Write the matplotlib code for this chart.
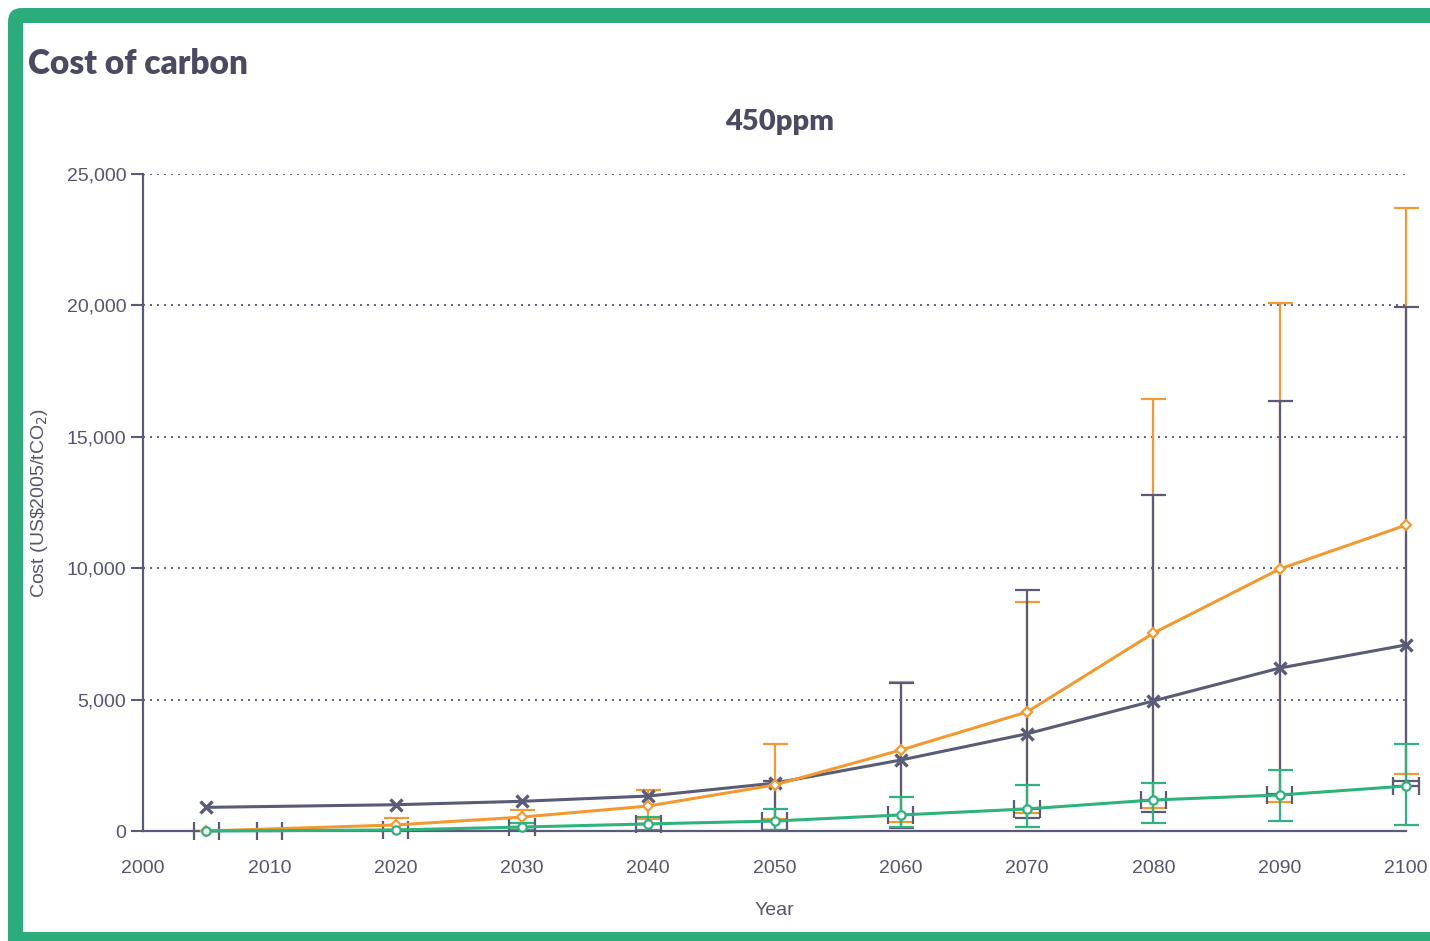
import numpy as np
import matplotlib
matplotlib.use("Agg")
import matplotlib.pyplot as plt
from matplotlib.patches import FancyBboxPatch, Rectangle

nan = np.nan

# cost of carbon, 450ppm scenario (US$2005/tCO2)
years = [2005, 2020, 2030, 2040, 2050, 2060, 2070, 2080, 2090, 2100]

dark_mid = [900, 1000, 1130, 1330, 1820, 2700, 3700, 4950, 6200, 7080]
dark_lo = [nan, nan, nan, nan, 50, 110, 500, 720, 1400, 1900]
dark_hi = [nan, nan, nan, nan, 1900, 5630, 9170, 12800, 16350, 19950]

orange_mid = [0, 230, 530, 950, 1750, 3080, 4530, 7530, 9970, 11640]
orange_lo = [nan, nan, 300, 450, 450, 350, 700, 870, 1100, 2170]
orange_hi = [nan, 490, 800, 1560, 3300, 5670, 8700, 16450, 20100, 23700]

green_mid = [0, 40, 150, 270, 380, 610, 840, 1180, 1370, 1710]
green_lo = [nan, nan, 50, 50, 50, 150, 150, 300, 380, 230]
green_hi = [nan, nan, 300, 530, 830, 1300, 1750, 1830, 2320, 3300]

# year spread markers drawn around the low series
spread_years = [2005, 2010, 2020, 2030, 2040, 2050, 2060, 2070, 2080, 2090, 2100]
spread_vals = [0, 0, 40, 150, 270, 380, 610, 840, 1180, 1370, 1710]

y_ticks = [0, 5000, 10000, 15000, 20000, 25000]
x_ticks = list(range(2000, 2101, 10))

DARK = "#5a5b76"
ORANGE = "#f29a30"
GREEN = "#2db37e"
FRAME = "#2aad7a"
TEXT = "#55566d"

fig = plt.figure(figsize=(14.3, 9.41), dpi=100)

# green frame
bg = fig.add_axes([0, 0, 1, 1], zorder=-1)
bg.set_xlim(0, 1430)
bg.set_ylim(941, 0)
bg.axis("off")
bg.add_patch(FancyBboxPatch((8, 8), 1480, 980, boxstyle="round,pad=0,rounding_size=14",
                            facecolor=FRAME, edgecolor="none"))
bg.add_patch(Rectangle((23, 23), 1450, 909, facecolor="white", edgecolor="none"))

fig.text(28 / 1430, 1 - 64 / 941, "Cost of carbon", fontsize=24, fontweight="heavy",
         family="Lato", color="#4a4b63", va="center", ha="left")
fig.text(780 / 1430, 1 - 122 / 941, "450ppm", fontsize=21, fontweight="heavy",
         family="Lato", color="#4a4b63", va="center", ha="center")

ax = fig.add_axes([143 / 1430, 1 - 831 / 941, (1406 - 143) / 1430, (831 - 174) / 941])
ax.patch.set_alpha(0)
ax.set_xlim(2000, 2100)
ax.set_ylim(0, 25000)

for s in ["top", "right"]:
    ax.spines[s].set_visible(False)
for s in ["left", "bottom"]:
    ax.spines[s].set_color(DARK)
    ax.spines[s].set_linewidth(1.6)

ax.set_yticks(y_ticks)
ax.set_yticklabels([f"{v:,}" for v in y_ticks])
ax.set_xticks(x_ticks)
ax.tick_params(axis="y", length=9, width=1.5, color=DARK, pad=3, labelsize=14, labelcolor=TEXT)
ax.tick_params(axis="x", length=0, pad=21, labelsize=14, labelcolor=TEXT)
for lab in ax.get_xticklabels() + ax.get_yticklabels():
    lab.set_family("Liberation Sans")

for v in y_ticks[1:]:
    ax.axhline(v, color="#5f6078", lw=1.4, ls=(0, (1, 2.6)), zorder=0)

ax.set_xlabel("Year", fontsize=14, color=TEXT, family="Liberation Sans")
ax.xaxis.set_label_coords(0.5, -0.108)
ax.set_ylabel(r"Cost (US\$2005/tCO$_2$)", fontsize=14, color=TEXT, family="Liberation Sans")
ax.yaxis.set_label_coords(-0.074, 0.5)


def bars(mid, lo, hi, col):
    mid = np.array(mid, float)
    err = [mid - np.array(lo, float), np.array(hi, float) - mid]
    ax.errorbar(years, mid, yerr=err, fmt="none", ecolor=col, elinewidth=1.6,
                capsize=9, capthick=1.6, zorder=2, clip_on=False)


bars(orange_mid, orange_lo, orange_hi, ORANGE)
bars(dark_mid, dark_lo, dark_hi, DARK)
bars(green_mid, green_lo, green_hi, GREEN)

ax.errorbar(spread_years, spread_vals, xerr=1, fmt="none", ecolor=DARK, elinewidth=1.6,
            capsize=6.5, capthick=1.6, zorder=2, clip_on=False)

ax.plot(years, dark_mid, color=DARK, lw=2.2, marker="x", ms=9, mew=2.4, zorder=4, clip_on=False)
ax.plot(years, orange_mid, color=ORANGE, lw=2.2, marker="D", ms=5.5, mew=1.6,
        mfc="white", zorder=5, clip_on=False)
ax.plot(years, green_mid, color=GREEN, lw=2.2, marker="o", ms=6, mew=1.6,
        mfc="white", zorder=6, clip_on=False)

fig.savefig("out.png", dpi=100)
